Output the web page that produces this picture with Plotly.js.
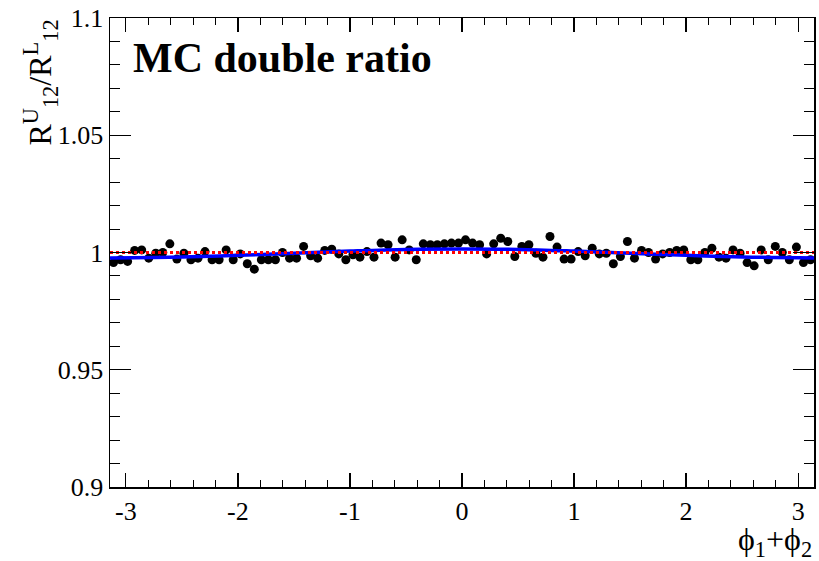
<!DOCTYPE html>
<html>
<head>
<meta charset="utf-8">
<script src="https://cdn.plot.ly/plotly-3.0.1.min.js"></script>
<style>html,body{margin:0;padding:0;background:#fff;}#chart{width:819px;height:561px;}</style>
</head>
<body>
<div id="chart"></div>
<script>
// 100 bins over [-pi, pi]
const nBins = 100;
const xMin = -Math.PI, xMax = Math.PI;
const binCenters = Array.from({length: nBins}, (_, i) => xMin + (i + 0.5) * (xMax - xMin) / nBins);

const ratioValues = [
  0.9957, 0.9969, 0.9962, 1.0009, 1.0011, 0.9976, 0.9997, 1.0000, 1.0037, 0.9972,
  0.9997, 0.9969, 0.9976, 1.0004, 0.9969, 0.9969, 1.0011, 0.9969, 0.9994, 0.9952,
  0.9929, 0.9969, 0.9969, 0.9969, 1.0000, 0.9976, 0.9976, 1.0026, 0.9986, 0.9976,
  1.0009, 1.0014, 0.9994, 0.9969, 0.9990, 0.9980, 1.0004, 0.9980, 1.0040, 1.0033,
  0.9980, 1.0054, 1.0011, 0.9969, 1.0037, 1.0033, 1.0033, 1.0037, 1.0040, 1.0040,
  1.0054, 1.0040, 1.0033, 0.9994, 1.0037, 1.0061, 1.0047, 0.9983, 1.0026, 1.0033,
  0.9997, 0.9980, 1.0068, 1.0023, 0.9972, 0.9972, 1.0004, 0.9986, 1.0018, 0.9994,
  0.9997, 0.9952, 0.9983, 1.0047, 0.9976, 1.0009, 1.0000, 0.9972, 0.9994, 1.0000,
  1.0009, 1.0011, 0.9969, 0.9969, 1.0000, 1.0018, 0.9980, 0.9976, 1.0011, 0.9997,
  0.9957, 0.9943, 1.0011, 0.9969, 1.0026, 1.0000, 0.9969, 1.0023, 0.9957, 0.9969
];

// fitted curve
const fitX = [-3.1416, -2.5, -2, -1.5, -1, -0.5, 0, 0.5, 1, 1.5, 2, 2.5, 3.1416];
const fitY = [0.9977, 0.9981, 0.9988, 0.9997, 1.0006, 1.0013, 1.0015, 1.0013, 1.0006, 0.9997, 0.9988, 0.9981, 0.9977];

const refX = [-3.1416, 3.1416];
const refY = [1, 1];

const xTickVals = [-3, -2, -1, 0, 1, 2, 3];
const xTickText = ['-3', '-2', '-1', '0', '1', '2', '3'];
const yTickVals = [0.9, 0.95, 1, 1.05, 1.1];
const yTickText = ['0.9', '0.95', '1', '1.05', '1.1'];

const serif = 'Liberation Serif, Times New Roman, serif';

const traces = [
  {x: binCenters, y: ratioValues, type: 'scatter', mode: 'markers',
   marker: {color: '#000', size: 9}, hoverinfo: 'skip'},
  {x: fitX, y: fitY, type: 'scatter', mode: 'lines',
   line: {color: '#0000ff', width: 3.5, shape: 'spline'}, hoverinfo: 'skip'},
  {x: refX, y: refY, type: 'scatter', mode: 'lines',
   line: {color: '#ff0000', width: 3, dash: 'dot'}, hoverinfo: 'skip'}
];

const layout = {
  width: 819, height: 561,
  margin: {l: 110, r: 5, t: 18, b: 74},
  paper_bgcolor: '#fff', plot_bgcolor: '#fff',
  showlegend: false,
  font: {family: serif, color: '#000', size: 26},
  xaxis: {
    range: [xMin, xMax], showgrid: false, zeroline: false,
    showline: true, linecolor: '#000', linewidth: 1.5, mirror: 'allticks',
    ticks: 'inside', ticklen: 14, tickwidth: 1.2, tickcolor: '#000',
    tickvals: xTickVals, ticktext: xTickText,
    tickfont: {family: serif, size: 26, color: '#000'},
    minor: {dtick: 0.2, ticks: 'inside', ticklen: 7, tickwidth: 1, tickcolor: '#000', showgrid: false}
  },
  yaxis: {
    range: [0.9, 1.1], showgrid: false, zeroline: false,
    showline: true, linecolor: '#000', linewidth: 1.5, mirror: 'allticks',
    ticks: 'inside', ticklen: 21, tickwidth: 1.2, tickcolor: '#000',
    tickvals: yTickVals, ticktext: yTickText,
    tickfont: {family: serif, size: 26, color: '#000'},
    minor: {dtick: 0.01, ticks: 'inside', ticklen: 10, tickwidth: 1, tickcolor: '#000', showgrid: false}
  },
  annotations: [
    {text: '<b>MC double ratio</b>', xref: 'paper', yref: 'paper', x: 0.03, y: 0.915,
     xanchor: 'left', yanchor: 'middle', showarrow: false,
     font: {family: serif, size: 42, color: '#000'}},
    {text: 'R<sup>U</sup><sub>12</sub>/R<sup>L</sup><sub>12</sub>', xref: 'paper', yref: 'paper',
     x: -0.1, y: 1.0, xanchor: 'center', yanchor: 'top', textangle: -90, showarrow: false,
     font: {family: serif, size: 32, color: '#000'}},
    {text: 'ϕ<sub>1</sub>+ϕ<sub>2</sub>', xref: 'paper', yref: 'paper',
     x: 1.0, y: -0.117, xanchor: 'right', yanchor: 'middle', showarrow: false,
     font: {family: serif, size: 32, color: '#000'}}
  ]
};

Plotly.newPlot('chart', traces, layout, {displayModeBar: false, staticPlot: true});
</script>
</body>
</html>
